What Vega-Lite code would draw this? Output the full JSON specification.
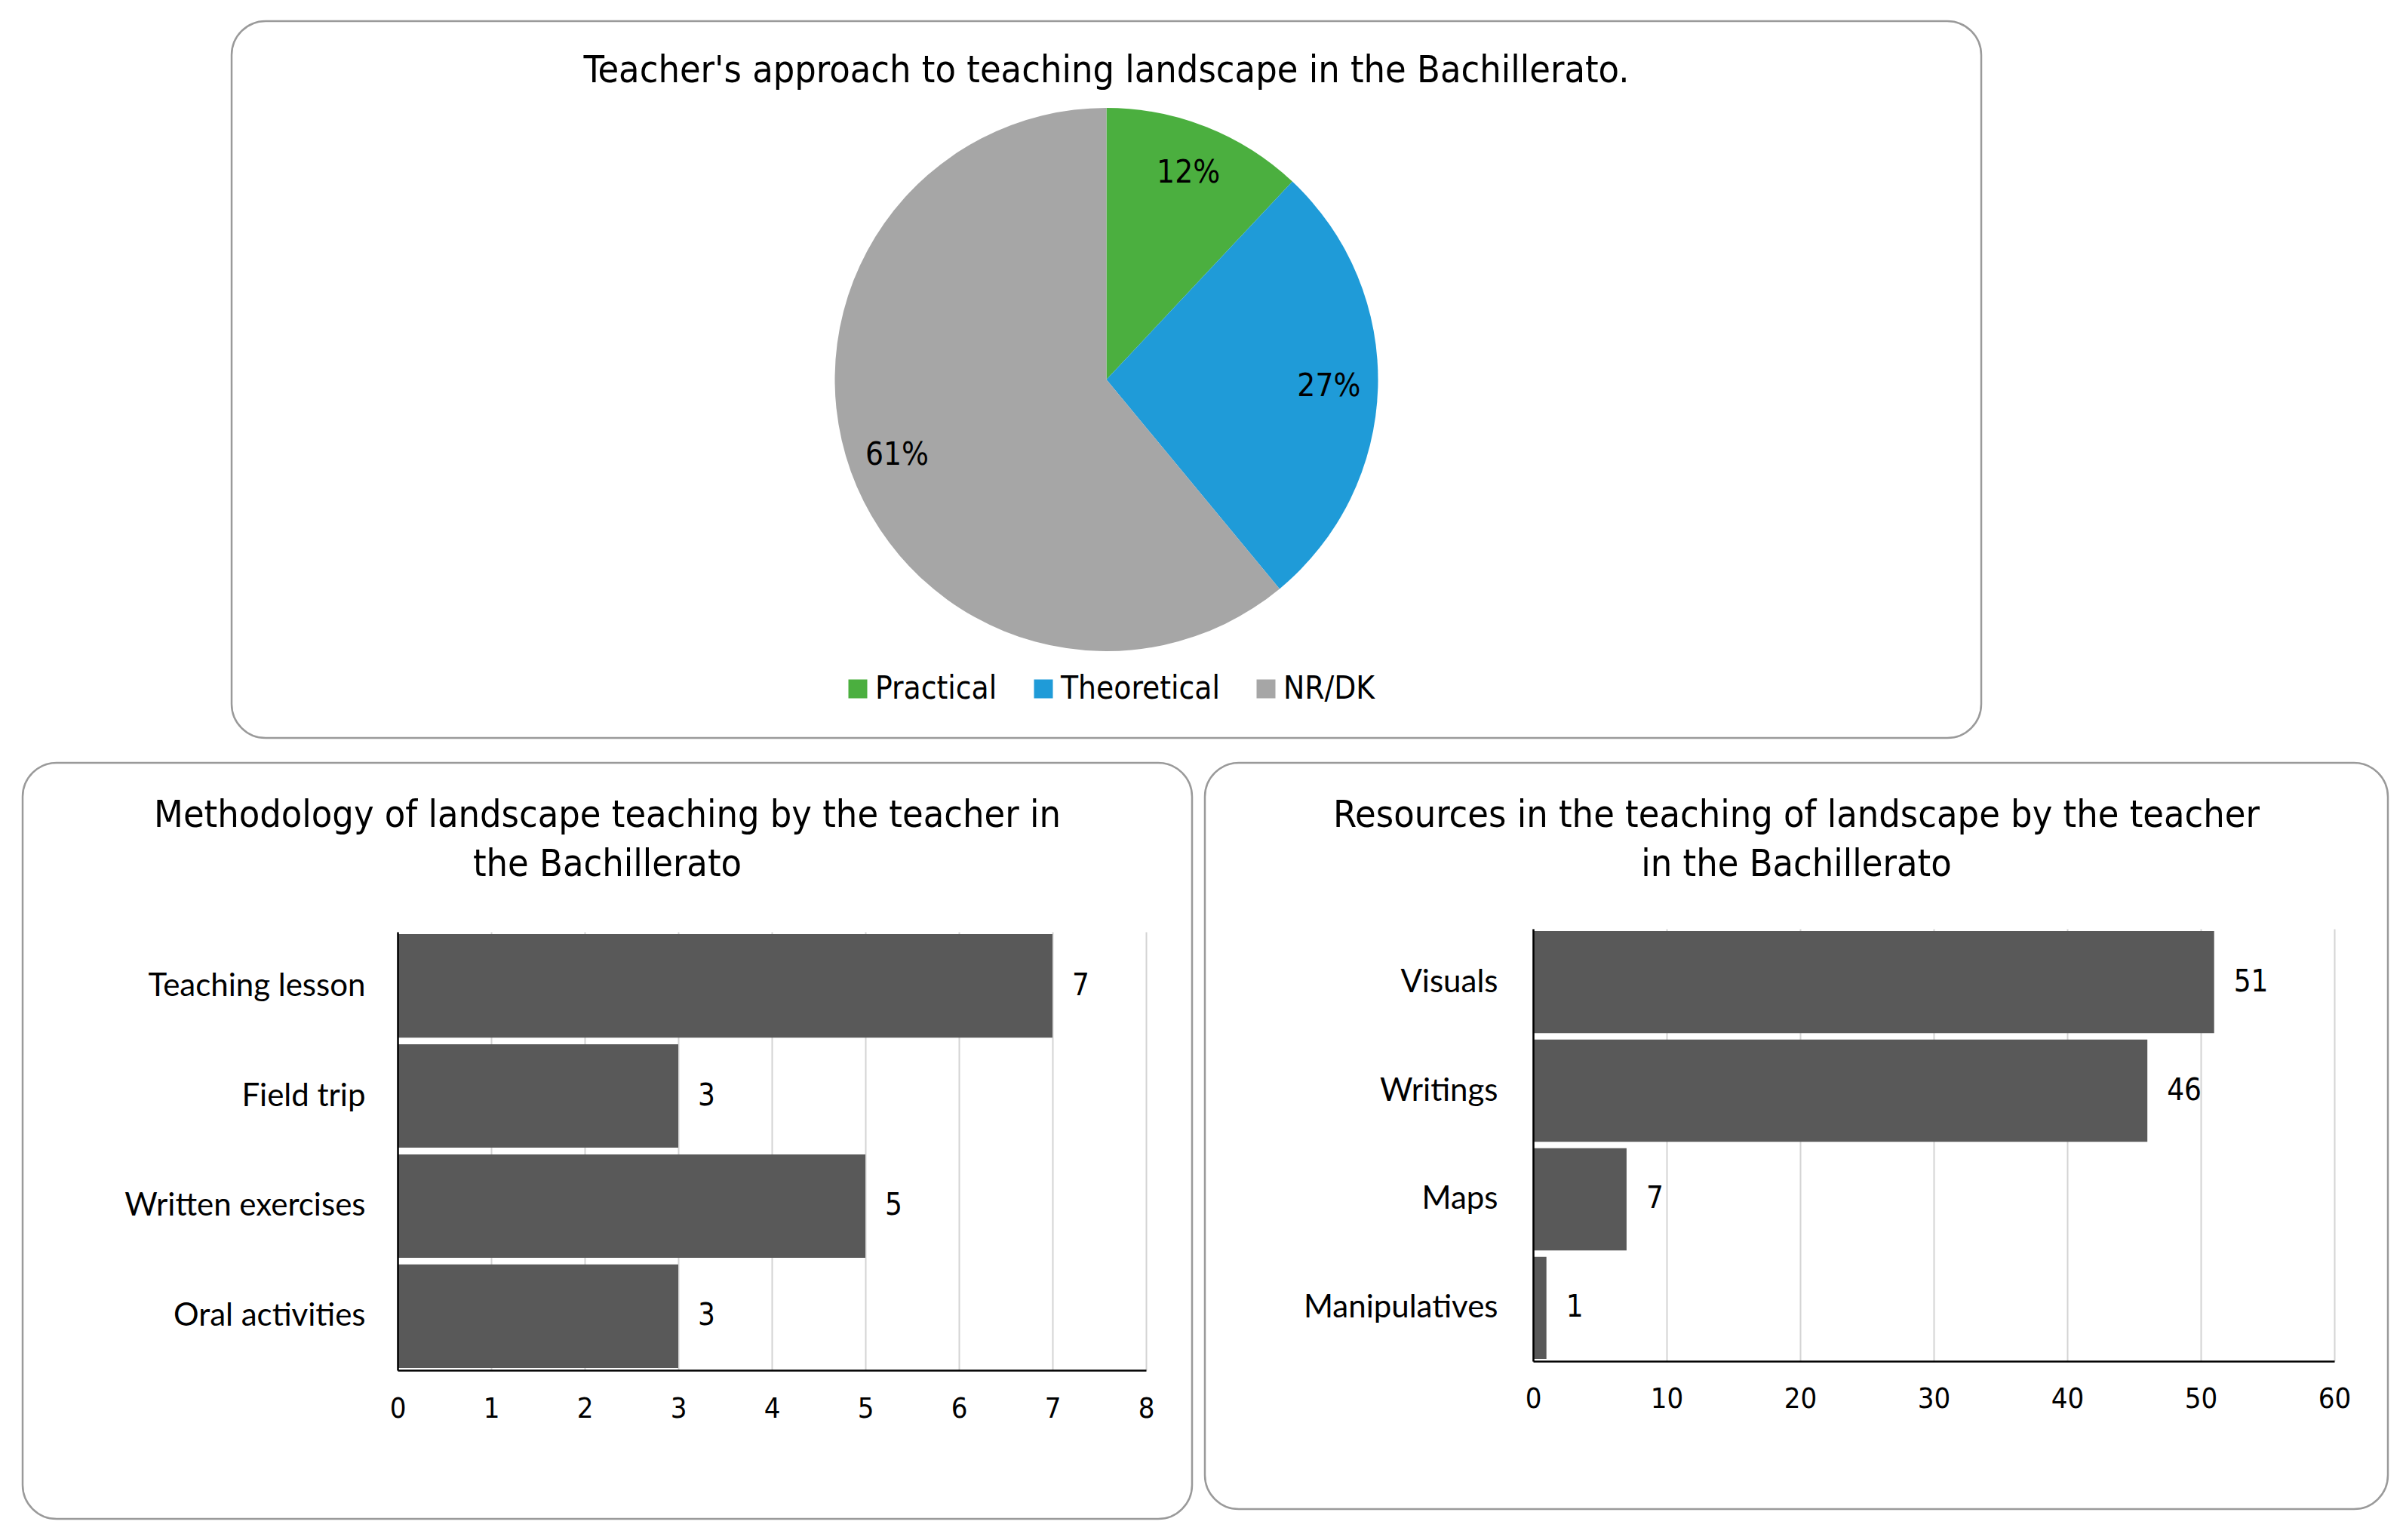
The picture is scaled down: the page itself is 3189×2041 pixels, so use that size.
{
  "$schema": "https://vega.github.io/schema/vega-lite/v6.json",
  "padding": {"left": 28, "top": 26, "right": 26, "bottom": 28},
  "background": "white",
  "config": {
    "view": {"stroke": "#9a9a9a", "strokeWidth": 2.5, "cornerRadius": 45},
    "font": "Liberation Sans Narrow, DejaVu Sans Condensed, sans-serif",
    "title": {"font": "Liberation Sans Narrow, DejaVu Sans Condensed, sans-serif", "fontSize": 50, "fontWeight": "normal", "color": "#000000", "anchor": "middle", "frame": "group"}
  },
  "spacing": 29,
  "vconcat": [
    {
      "spacing": 0,
      "bounds": "flush",
      "hconcat": [
        {
          "width": 277,
          "height": 10,
          "data": {"values": [{}]},
          "mark": {"type": "point", "opacity": 0},
          "view": {"stroke": null}
        },
        {
          "width": 2319,
          "height": 950,
          "title": {"text": "Teacher's approach to teaching landscape in the Bachillerato.", "offset": -92},
          "data": {
            "values": [
              {"cat": "Practical", "pct": 12, "o": 1, "label": "12%"},
              {"cat": "Theoretical", "pct": 27, "o": 2, "label": "27%"},
              {"cat": "NR/DK", "pct": 61, "o": 3, "label": "61%"}
            ]
          },
          "layer": [
            {
              "data": {"values": [{}]},
              "mark": {"type": "rect", "fill": null, "fillOpacity": 0, "stroke": "#9a9a9a", "strokeWidth": 2.5, "cornerRadius": 45},
              "encoding": {}
            },
            {
              "mark": {"type": "arc", "outerRadius": 360},
              "encoding": {
                "theta": {"field": "pct", "type": "quantitative", "stack": true},
                "order": {"field": "o", "type": "quantitative"},
                "color": {
                  "field": "cat", "type": "nominal",
                  "scale": {"domain": ["Practical", "Theoretical", "NR/DK"], "range": ["#4BAF3F", "#1F9BD8", "#A6A6A6"]},
                  "legend": {
                    "orient": "none", "legendX": 1086, "legendY": 864, "direction": "horizontal",
                    "title": null, "symbolType": "square", "symbolSize": 625, "symbolStrokeWidth": 0,
                    "labelFontSize": 42, "labelFont": "Liberation Sans Narrow, DejaVu Sans Condensed, sans-serif",
                    "labelColor": "#000000", "columnPadding": 40, "labelOffset": 2, "labelLimit": 0
                  }
                }
              }
            },
            {
              "mark": {"type": "text", "radius": 295, "fontSize": 42, "color": "#000000", "font": "Liberation Sans Narrow, DejaVu Sans Condensed, sans-serif"},
              "encoding": {
                "theta": {"field": "pct", "type": "quantitative", "stack": true},
                "order": {"field": "o", "type": "quantitative"},
                "detail": {"field": "cat", "type": "nominal"},
                "text": {"field": "label", "type": "nominal"}
              }
            }
          ]
        }
      ]
    },
    {
      "spacing": 17,
      "bounds": "flush",
      "hconcat": [
        {
          "width": 1550,
          "height": 1002,
          "title": {"text": ["Methodology of landscape teaching by the teacher in", "the Bachillerato"], "offset": -160, "lineHeight": 65, "fontSize": 50},
          "data": {
            "values": [
              {"cat": "Teaching lesson", "v": 7},
              {"cat": "Field trip", "v": 3},
              {"cat": "Written exercises", "v": 5},
              {"cat": "Oral activities", "v": 3}
            ]
          },
          "resolve": {"axis": {"x": "independent"}},
          "layer": [
            {
              "mark": {"type": "bar", "color": "#595959"},
              "encoding": {
                "y": {
                  "field": "cat", "type": "nominal", "sort": null,
                  "scale": {"range": [224, 805], "paddingInner": 0.06, "paddingOuter": 0.02},
                  "axis": {"orient": "left", "offset": -497, "title": null, "ticks": false, "grid": false, "labelPadding": 43, "labelFont": "Lato", "labelFontSize": 42, "labelLimit": 0, "labelColor": "#000000", "domainColor": "#000000", "domainWidth": 2.5, "zindex": 2}
                },
                "x": {
                  "field": "v", "type": "quantitative",
                  "scale": {"domain": [0, 8], "range": [497, 1489], "nice": false, "zero": true},
                  "axis": {"orient": "bottom", "offset": -197, "values": [0, 1, 2, 3, 4, 5, 6, 7, 8], "title": null, "grid": false, "ticks": false, "domainColor": "#000000", "domainWidth": 2.5, "labelPadding": 32, "labelFontSize": 38, "labelColor": "#000000", "labelFont": "Liberation Sans Narrow, DejaVu Sans Condensed, sans-serif", "labelFlush": false, "labelOverlap": false, "zindex": 2}
                }
              }
            },
            {
              "mark": {"type": "text", "align": "left", "dx": 26, "fontSize": 40, "color": "#000000", "font": "Liberation Sans Narrow, DejaVu Sans Condensed, sans-serif"},
              "encoding": {
                "y": {"field": "cat", "type": "nominal", "sort": null},
                "x": {
                  "field": "v", "type": "quantitative",
                  "axis": {"orient": "top", "grid": true, "gridColor": "#d4d4d4", "gridWidth": 2, "labels": false, "ticks": false, "domain": false, "title": null, "values": [0, 1, 2, 3, 4, 5, 6, 7, 8], "zindex": 0}
                },
                "text": {"field": "v", "type": "quantitative"}
              }
            }
          ]
        },
        {
          "width": 1568,
          "height": 989,
          "title": {"text": ["Resources in the teaching of landscape by the teacher", "in the Bachillerato"], "offset": -160, "lineHeight": 65, "fontSize": 50},
          "data": {
            "values": [
              {"cat": "Visuals", "v": 51},
              {"cat": "Writings", "v": 46},
              {"cat": "Maps", "v": 7},
              {"cat": "Manipulatives", "v": 1}
            ]
          },
          "resolve": {"axis": {"x": "independent"}},
          "layer": [
            {
              "mark": {"type": "bar", "color": "#595959"},
              "encoding": {
                "y": {
                  "field": "cat", "type": "nominal", "sort": null,
                  "scale": {"range": [220, 793], "paddingInner": 0.06, "paddingOuter": 0.02},
                  "axis": {"orient": "left", "offset": -435, "title": null, "ticks": false, "grid": false, "labelPadding": 47, "labelFont": "Lato", "labelFontSize": 42, "labelLimit": 0, "labelColor": "#000000", "domainColor": "#000000", "domainWidth": 2.5, "zindex": 2}
                },
                "x": {
                  "field": "v", "type": "quantitative",
                  "scale": {"domain": [0, 60], "range": [435, 1497], "nice": false, "zero": true},
                  "axis": {"orient": "bottom", "offset": -196, "values": [0, 10, 20, 30, 40, 50, 60], "title": null, "grid": false, "ticks": false, "domainColor": "#000000", "domainWidth": 2.5, "labelPadding": 31, "labelFontSize": 38, "labelColor": "#000000", "labelFont": "Liberation Sans Narrow, DejaVu Sans Condensed, sans-serif", "labelFlush": false, "labelOverlap": false, "zindex": 2}
                }
              }
            },
            {
              "mark": {"type": "text", "align": "left", "dx": 26, "fontSize": 40, "color": "#000000", "font": "Liberation Sans Narrow, DejaVu Sans Condensed, sans-serif"},
              "encoding": {
                "y": {"field": "cat", "type": "nominal", "sort": null},
                "x": {
                  "field": "v", "type": "quantitative",
                  "axis": {"orient": "top", "grid": true, "gridColor": "#d4d4d4", "gridWidth": 2, "labels": false, "ticks": false, "domain": false, "title": null, "values": [0, 10, 20, 30, 40, 50, 60], "zindex": 0}
                },
                "text": {"field": "v", "type": "quantitative"}
              }
            }
          ]
        }
      ]
    }
  ]
}
